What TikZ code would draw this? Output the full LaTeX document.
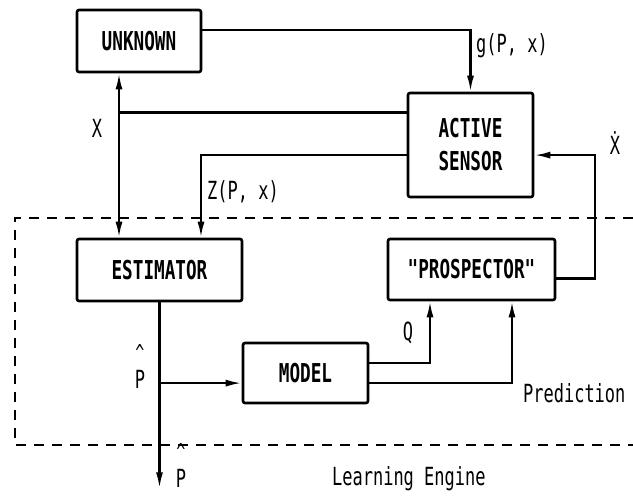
\documentclass[tikz,border=0pt]{standalone}
\usepackage{fontspec}
\newfontfamily\plotfont[FakeStretch=0.68]{DejaVu Sans Mono}
\usetikzlibrary{positioning,calc,arrows.meta}

\begin{document}
\begin{tikzpicture}[x=1pt, y=-1pt, >={Latex[length=16pt,width=7pt]}, line width=2.2pt,
    block/.style={draw=black, line width=2.6pt, rounded corners=2pt,
        inner sep=0pt, text=black, align=center,
        font=\plotfont\bfseries\fontsize{26}{33}\selectfont},
    lbl/.style={inner sep=0pt, text=black, align=center,
        font=\plotfont\fontsize{25}{28}\selectfont}]

        \useasboundingbox (0,0) rectangle (633,496);

        %unknown
        \node[block, minimum width=124pt, minimum height=62pt] (unknown) at (139,41) {UNKNOWN};

        %active sensor
        \node[block, minimum width=125pt, minimum height=104pt] (sensor) at ($(unknown.center) + (331.5,104)$) {ACTIVE\\SENSOR};

        %estimator
        \node[block, minimum width=165pt, minimum height=62pt] (estimator) at (159.5,270) {ESTIMATOR};

        %prospector
        \node[block, minimum width=167pt, minimum height=61pt] (prospector) at ($(estimator.center) + (312,-0.5)$) {"PROSPECTOR"};

        %model
        \node[block, minimum width=125pt, minimum height=60pt] (model) at ($(estimator.center) + (146,103)$) {MODEL};

        %learning engine frame
        \draw[dash pattern=on 10pt off 8pt, line width=2.2pt] (633,218) -- (15,218) -- (15,445) -- (633,445);

        %free ends and bends
        \coordinate (xtop) at ([xshift=-20pt]unknown.south);
        \coordinate (zin) at ([xshift=41.5pt]estimator.north);
        \coordinate (pout) at ($(estimator.south) + (0,186)$);

        %labels
        \node[lbl, anchor=west] (glbl) at (475,46) {g(P, x)};
        \node[lbl] (xlbl) at (97,128) {X};
        \node[lbl, anchor=west] (zlbl) at (206,192) {Z(P, x)};
        \node[lbl] (xdotlbl) at (615,143) {\.{X}};
        \node[lbl] (phat) at (140,366) {{\fontsize{22}{12}\selectfont\textasciicircum}\\P};
        \node[lbl, anchor=south] (phatout) at (181,489) {{\fontsize{22}{12}\selectfont\textasciicircum}\\P};
        \node[lbl] (qlbl) at (408,333) {Q};
        \node[lbl, anchor=west] (pred) at (522,393) {Prediction};
        \node[lbl, anchor=west] (engine) at (331,479) {Learning Engine};

        %unknown to sensor
        \draw[->] (unknown.10) -| (sensor.north);

        %state line between unknown, sensor and estimator
        \draw[<->] (xtop) -- (xtop |- estimator.north);
        \draw (sensor.153) -- (sensor.153 -| xtop);

        %measurements
        \draw[->] (sensor.189) -| (zin);

        %estimate out and to the model
        \draw[->] (estimator.south) -- (pout);
        \draw[->] (model.189 -| estimator.south) -- (model.189);

        %model to prospector
        \draw[->] (model.9) -| ([xshift=-41.5pt]prospector.south);
        \draw[->] (model.-9) -| ([xshift=40.5pt]prospector.south);

        %prospector back to sensor
        \draw[->] (prospector.-6.5) -- ++(39,0) |- (sensor.-9);

\end{tikzpicture}
\end{document}
